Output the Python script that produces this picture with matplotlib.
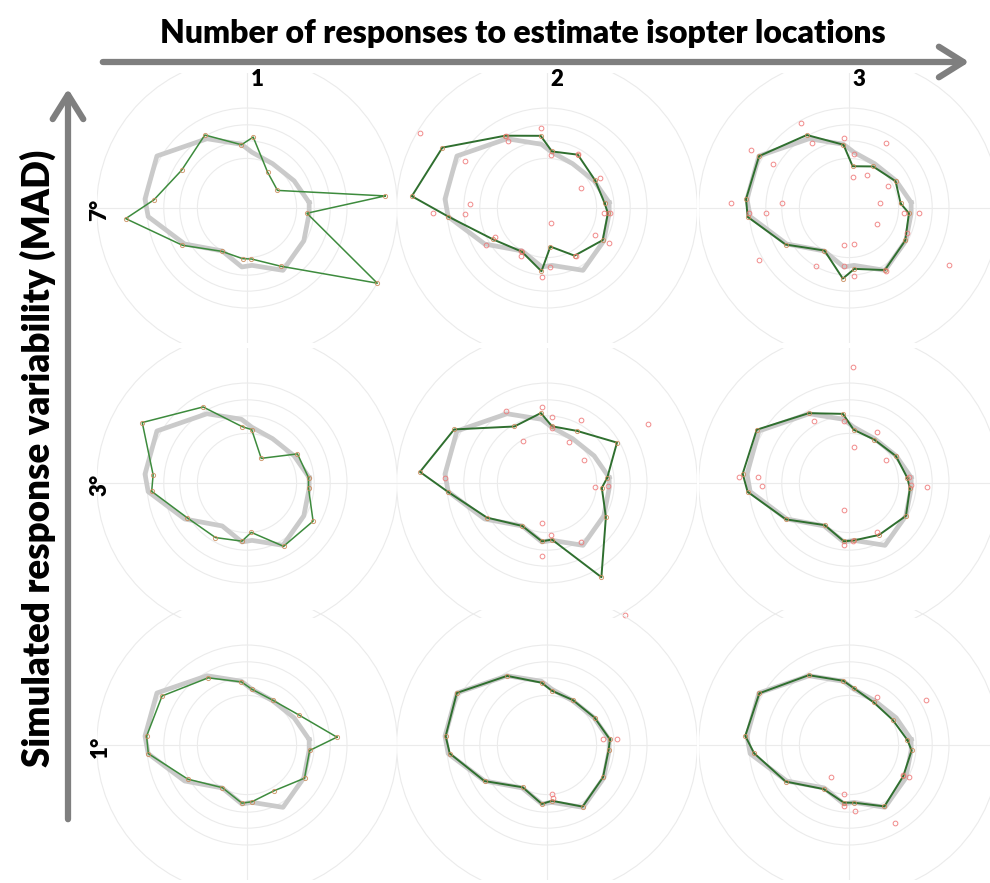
import numpy as np
import matplotlib
matplotlib.use("Agg")
import matplotlib.pyplot as plt
from matplotlib.patches import Circle, FancyArrowPatch


# ==========================================================
#   Datos (grados de campo visual)
# ==========================================================

MERIDIANOS = [5, 30, 60, 85, 95, 120, 150, 175, 185, 210, 240, 265, 275, 300, 330, 355]

# isóptera verdadera (gris)
ISOPTERA_REAL = [39, 34, 32, 35, 40, 50, 65, 64, 62, 45, 31, 37, 36, 45, 41, 39]

# isópteras estimadas (verde), fila = MAD, columna = nº de respuestas
EST_MAD7_N1 = [86.6, 22, 25.8, 44.5, 39.7, 52.7, 47.2, 58.4, 76.1, 46.6, 31.3, 31.8, 32, 42, 94, 37.6]
EST_MAD7_N2 = [36.1, 34.7, 38.5, 35.5, 45.3, 52.2, 75.5, 84.8, 61.9, 39.1, 31.5, 39.7, 24.2, 34.4, 40.2, 38.2]
EST_MAD7_N3 = [32.4, 33.6, 30, 26.2, 39.7, 52.7, 64.9, 64.6, 63.6, 45.7, 30.7, 44.3, 38.2, 44.8, 40.6, 37.6]

EST_MAD3_N1 = [38.6, 36.4, 17.8, 33.5, 35.4, 54.9, 75.6, 58.9, 59.8, 43.3, 39.4, 36.5, 31, 45.7, 47.7, 38.6]
EST_MAD3_N2 = [37.8, 50.5, 37.6, 35.6, 43.9, 40.8, 67, 79.7, 62.3, 43.3, 31, 36.6, 35.5, 68, 42.5, 34.4]
EST_MAD3_N3 = [36.6, 33.8, 31.4, 33.4, 43.4, 50.4, 66.6, 66.7, 63.6, 45.5, 30.4, 36.6, 36, 37.5, 41.1, 38.2]

EST_MAD1_N1 = [56.4, 37.5, 32.3, 35, 39.6, 48.5, 61.3, 63, 61.9, 42.7, 30.8, 36.5, 35.6, 33.2, 41.5, 39.3]
EST_MAD1_N2 = [39.5, 34.3, 32.4, 34.1, 39.1, 49.9, 65.1, 63.6, 61, 45.1, 30.5, 37, 35, 44.5, 40.4, 38.6]
EST_MAD1_N3 = [36.6, 31.5, 30.8, 35.6, 40.3, 50.4, 64.7, 65.1, 59.5, 45.7, 31.8, 36.2, 36.2, 44.3, 39.1, 39.3]

# respuestas individuales (rojo) que no caen sobre la estimación
RESP_MAD7_N2_X = [-79.6, -51.5, -48.3, -51.5, -71.3, -37.9, -32.7, -25.4, -24.4, -3.5, 2.7, 19.4,
                  32.9, 21.0, 35.6, 39.2, 38.5, 29.8, 2.7, -16.0, -16.5, 1.7, -3.1, 18.3]
RESP_MAD7_N2_Y = [46.9, 29.2, 2.7, -3.5, -3.1, -22.9, -18.1, 44.8, 41.7, 50.0, 33.3, 34.0,
                  18.75, 12.5, -3.1, -3.1, -21.9, -16.7, -9.4, -27.1, -29.8, -36.9, -43.1, -30.2]
RESP_MAD7_N3_X = [-30.2, -61.5, -47.3, -74.0, -41.7, -62.5, -52.1, -56.3, -20.8, -3.1, 3.1, 3.1, 17.7, 19.4,
                  22.9, 11.5, 2.7, -3.1, -22.9, 3.1, 24.4, 34.4, 43.8, 62.5, 22.9, 36.5, -3.1]
RESP_MAD7_N3_Y = [53.1, 36.0, 27.7, 3.1, 3.1, -3.1, -3.1, -32.3, -36.5, -23.3, -22.5, -42.7, -9.8, 3.1,
                  40.6, 20.8, 19.2, 43.8, 40.6, 34.0, 14.0, -3.1, -3.1, -35.4, -39.6, -15.6, -36.5]
RESP_MAD3_N2_X = [-3.1, 3.1, 21.0, 63.1, -15.0, 13.5, 22.9, -25.4, -64.0, -3.1, 2.7, -3.1, 21.5, 29.8, 38.1, 48.5, 3.1]
RESP_MAD3_N2_Y = [47.5, 41.3, 39.2, 37.1, 26.5, 25.4, 14.2, 44.8, 3.1, -25.0, -32.3, -45.8, -37.1, -2.5, -2.1, -82.3, 34.4]
RESP_MAD3_N3_X = [2.7, -21.9, -3.1, 17.3, 3.1, 22.9, -56.9, -68.8, -54.2, -3.1, 17.7, -3.1, 2.7, 49.0, 38.5, 37.5]
RESP_MAD3_N3_Y = [72.5, 38.5, 38.5, 31.7, 22.5, 14.2, 3.8, 3.8, -2.1, -17.1, -30.8, -38.5, -36.5, -2.5, -1.0, 3.8]
RESP_MAD1_N2_X = [43.5, 35.2, 3.1, 3.5]
RESP_MAD1_N2_Y = [3.5, 3.5, -30.6, -33.3]
RESP_MAD1_N3_X = [47.9, 37.5, 33.8, -11.5, -3.1, -3.1, 3.8, 28.8, 17.7]
RESP_MAD1_N3_Y = [28.1, -19.8, -18.8, -19.8, -30.8, -38.1, -41.0, -48.5, 30.2]

ANILLOS = [31, 42, 52, 62.5, 94]

FILAS = ["7°", "3°", "1°"]
COLUMNAS = ["1", "2", "3"]

GRILLA = [
    [(EST_MAD7_N1, [], []), (EST_MAD7_N2, RESP_MAD7_N2_X, RESP_MAD7_N2_Y), (EST_MAD7_N3, RESP_MAD7_N3_X, RESP_MAD7_N3_Y)],
    [(EST_MAD3_N1, [], []), (EST_MAD3_N2, RESP_MAD3_N2_X, RESP_MAD3_N2_Y), (EST_MAD3_N3, RESP_MAD3_N3_X, RESP_MAD3_N3_Y)],
    [(EST_MAD1_N1, [], []), (EST_MAD1_N2, RESP_MAD1_N2_X, RESP_MAD1_N2_Y), (EST_MAD1_N3, RESP_MAD1_N3_X, RESP_MAD1_N3_Y)],
]


# ==========================================================
#   Utilidades
# ==========================================================

def polar_a_xy(radios):
    ang = np.deg2rad(MERIDIANOS + [MERIDIANOS[0]])
    r = np.array(list(radios) + [radios[0]])
    return r * np.cos(ang), r * np.sin(ang)


def dibujar_panel(ax, estimada, resp_x, resp_y, n_resp):
    ax.set_xlim(-93.75, 93.75)
    ax.set_ylim(-84.4, 84.4)
    ax.set_axis_off()

    for r in ANILLOS:
        ax.add_patch(Circle((0, 0), r, fill=False, ec="#ebebeb", lw=0.8, zorder=1))
    ax.axhline(0, color="#ebebeb", lw=0.8, zorder=1)
    ax.axvline(0, color="#ebebeb", lw=0.8, zorder=1)

    xr, yr = polar_a_xy(ISOPTERA_REAL)
    ax.plot(xr, yr, color="#cacaca", lw=3.4, solid_joinstyle="round", zorder=2)

    xe, ye = polar_a_xy(estimada)
    verde = "#3d8b3d" if n_resp == 1 else "#2f6f2f"
    ax.plot(xe, ye, color=verde, lw=1.1 if n_resp == 1 else 1.4, zorder=3)

    ax.plot(xe[:-1], ye[:-1], "o", ms=3.0, mfc="none", mec="#c98a5a", mew=0.7, alpha=0.85, zorder=4)
    if len(resp_x):
        ax.plot(resp_x, resp_y, "o", ms=3.4, mfc="none", mec="#ee7676", mew=0.7, alpha=0.85, zorder=4)


# ==========================================================
#   Figura
# ==========================================================

W, H = 990, 883
fig = plt.figure(figsize=(W / 100, H / 100), dpi=100)
plt.rcParams["font.family"] = ["Lato", "DejaVu Sans"]

centros_x = [247, 547, 849]
centros_y = [208, 483, 745]

for i, fila in enumerate(GRILLA):
    for j, (est, rx, ry) in enumerate(fila):
        cx, cy = centros_x[j], centros_y[i]
        ax = fig.add_axes([(cx - 150) / W, (H - cy - 135) / H, 300 / W, 270 / H])
        dibujar_panel(ax, est, rx, ry, j + 1)

# flechas de los ejes
gris = "#7f7f7f"
fig.add_artist(FancyArrowPatch((100 / W, 1 - 62 / H), (972 / W, 1 - 62 / H), transform=fig.transFigure,
                               arrowstyle="->,head_length=0.8,head_width=0.5", mutation_scale=22,
                               lw=4.5, color=gris))
fig.add_artist(FancyArrowPatch((68 / W, 1 - 822 / H), (68 / W, 1 - 86 / H), transform=fig.transFigure,
                               arrowstyle="->,head_length=0.8,head_width=0.5", mutation_scale=22,
                               lw=4.5, color=gris))

fig.text(523 / W, 1 - 33 / H, "Number of responses to estimate isopter locations",
         ha="center", va="center", fontsize=23, fontweight="heavy")
fig.text(38 / W, 1 - 458 / H, "Simulated response variability (MAD)", rotation=90,
         ha="center", va="center", fontsize=26.5, fontweight="heavy")

for j, etiqueta in enumerate(COLUMNAS):
    fig.text((centros_x[j] + 10) / W, 1 - 80 / H, etiqueta, ha="center", va="center",
             fontsize=16, fontweight="heavy")
for i, etiqueta in enumerate(FILAS):
    fig.text(100 / W, 1 - (centros_y[i] + 2) / H, etiqueta, rotation=90, ha="center", va="center",
             fontsize=16, fontweight="heavy")

plt.savefig("out.png", dpi=100)
plt.close()
